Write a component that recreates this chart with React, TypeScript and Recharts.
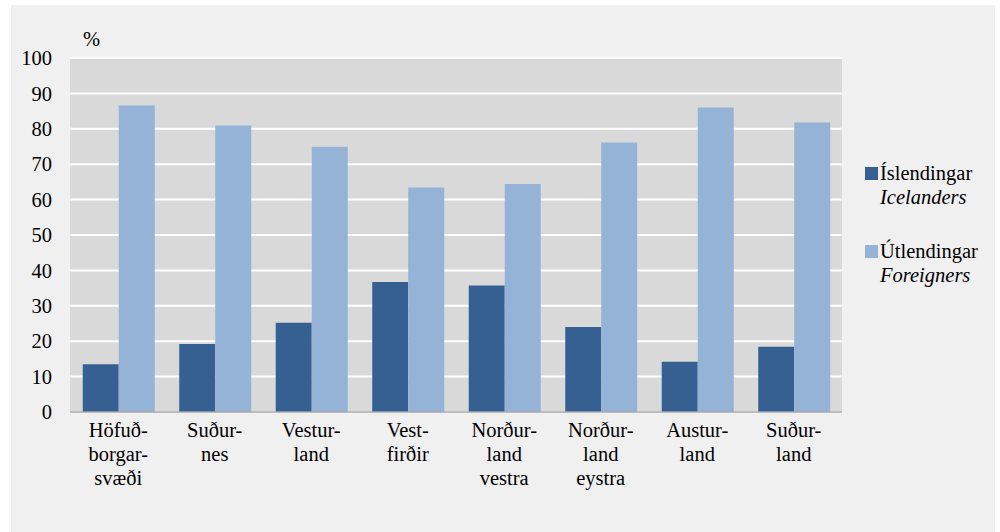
import { Bar, BarChart, CartesianGrid, Legend, XAxis, YAxis } from 'recharts'

const categories = [
  'Höfuð-|borgar-|svæði',
  'Suður-|nes',
  'Vestur-|land',
  'Vest-|firðir',
  'Norður-|land|vestra',
  'Norður-|land|eystra',
  'Austur-|land',
  'Suður-|land',
]
const icelanders = [13.5, 19.2, 25.2, 36.7, 35.7, 24.0, 14.2, 18.4]
const foreigners = [86.6, 80.9, 74.9, 63.4, 64.4, 76.1, 86.0, 81.8]
const yTicks = [0, 10, 20, 30, 40, 50, 60, 70, 80, 90, 100]

const series = [
  { key: 'icelanders', name: 'Íslendingar', nameEn: 'Icelanders', color: '#376092' },
  { key: 'foreigners', name: 'Útlendingar', nameEn: 'Foreigners', color: '#95b3d7' },
]

const data = categories.map((c, i) => ({
  region: c,
  icelanders: icelanders[i],
  foreigners: foreigners[i],
}))

const FONT = "'Liberation Serif', 'Times New Roman', Times, 'DejaVu Serif', serif"
const FS = 20.5
const LEGEND_W = 135

const RegionTick = (props: any) => {
  const { x, y, payload } = props
  const lines = String(payload.value).split('|')
  return (
    <text x={x} y={y} textAnchor="middle" style={{ fontFamily: FONT, fontSize: FS }} fill="#000">
      {lines.map((l, i) => (
        <tspan key={i} x={x} dy={i === 0 ? 25 : 24}>
          {l}
        </tspan>
      ))}
    </text>
  )
}

const renderLegend = () => (
  <div style={{ fontFamily: FONT, fontSize: FS, lineHeight: '24px', color: '#000' }}>
    {series.map((s, i) => (
      <div key={s.key} style={{ marginTop: i === 0 ? 0 : 30 }}>
        <div style={{ display: 'flex', alignItems: 'center' }}>
          <span style={{ display: 'inline-block', width: 13, height: 13, background: s.color, marginRight: 2 }} />
          <span>{s.name}</span>
        </div>
        <div style={{ paddingLeft: 15, fontStyle: 'italic' }}>{s.nameEn}</div>
      </div>
    ))}
  </div>
)

export default function App() {
  return (
    <div style={{ position: 'absolute', left: 0, top: 0, width: 1000, height: 532, background: '#fff', fontFamily: FONT }}>
      <div style={{ position: 'absolute', left: 11, top: 5, width: 984, height: 527, background: '#f0f0f0' }} />
      <div style={{ position: 'absolute', left: 0, top: 0 }}>
        <BarChart
          width={1000}
          height={532}
          data={data}
          margin={{ top: 58, right: 158 - LEGEND_W, bottom: 0, left: 0 }}
          barCategoryGap="13.2%"
          barGap={0}
        >
          <CartesianGrid vertical={false} fill="#d9d9d9" stroke="#ffffff" strokeWidth={2} fillOpacity={1} />
          <XAxis
            dataKey="region"
            height={120}
            tickLine={false}
            tickSize={0}
            tickMargin={0}
            axisLine={{ stroke: '#a6a6a6', strokeWidth: 1.5 }}
            tick={<RegionTick />}
            interval={0}
          />
          <YAxis
            width={70}
            domain={[0, 100]}
            ticks={yTicks}
            axisLine={false}
            tickLine={false}
            tickSize={0}
            tickMargin={18}
            tick={{ fontSize: FS, fill: '#000', style: { fontFamily: FONT } }}
            label={{
              content: (p: any) => (
                <text
                  x={p.viewBox.x + p.viewBox.width + 13}
                  y={p.viewBox.y - 12}
                  style={{ fontFamily: FONT, fontSize: FS }}
                  fill="#000"
                >
                  %
                </text>
              ),
            }}
          />
          <Legend
            layout="horizontal"
            verticalAlign="middle"
            align="right"
            content={renderLegend}
            wrapperStyle={{ left: 865, top: 161, width: LEGEND_W }}
          />
          {series.map((s) => (
            <Bar key={s.key} dataKey={s.key} name={s.name} fill={s.color} isAnimationActive={false} />
          ))}
        </BarChart>
      </div>
    </div>
  )
}
